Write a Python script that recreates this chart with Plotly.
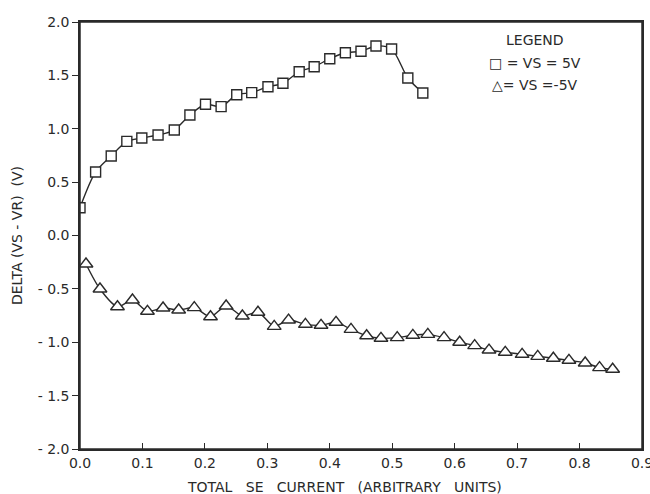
import plotly.graph_objects as go

sq_x = [0.0, 0.025, 0.050, 0.075, 0.099, 0.125, 0.151, 0.176, 0.201, 0.226, 0.251, 0.275,
        0.301, 0.325, 0.351, 0.375, 0.400, 0.425, 0.450, 0.474, 0.499, 0.525, 0.549]
sq_y = [0.26, 0.595, 0.745, 0.882, 0.913, 0.941, 0.988, 1.129, 1.229, 1.207, 1.319, 1.338,
        1.394, 1.426, 1.534, 1.581, 1.656, 1.712, 1.726, 1.775, 1.747, 1.475, 1.335]

tr_x = [0.0096, 0.032, 0.060, 0.084, 0.108, 0.133, 0.158, 0.183, 0.209, 0.234, 0.260, 0.285,
        0.311, 0.334, 0.361, 0.386, 0.410, 0.434, 0.459, 0.482, 0.508, 0.533, 0.557, 0.583,
        0.608, 0.632, 0.655, 0.681, 0.708, 0.733, 0.758, 0.783, 0.809, 0.832, 0.853]
tr_y = [-0.267, -0.501, -0.667, -0.604, -0.710, -0.679, -0.698, -0.676, -0.761, -0.660, -0.754, -0.719,
        -0.851, -0.792, -0.832, -0.841, -0.813, -0.879, -0.939, -0.963, -0.957, -0.935, -0.926, -0.957,
        -1.000, -1.032, -1.073, -1.094, -1.113, -1.132, -1.150, -1.169, -1.194, -1.238, -1.253]

x_ticks = [0.0, 0.1, 0.2, 0.3, 0.4, 0.5, 0.6, 0.7, 0.8, 0.9]
x_labels = ["0.0", "0.1", "0.2", "0.3", "0.4", "0.5", "0.6", "0.7", "0.8", "0.9"]
y_ticks = [-2.0, -1.5, -1.0, -0.5, 0.0, 0.5, 1.0, 1.5, 2.0]
y_labels = ["- 2.0", "- 1.5", "- 1.0", "- 0.5", "0.0", "0.5", "1.0", "1.5", "2.0"]

FONT = "DejaVu Sans, sans-serif"
INK = "#2a2a2a"

fig = go.Figure()
fig.add_trace(go.Scatter(
    x=sq_x, y=sq_y, mode="lines+markers", name="VS = 5V",
    line=dict(color=INK, width=1.4, shape="spline", smoothing=0.8),
    marker=dict(symbol="square", size=10, color="white", line=dict(color=INK, width=1.4)),
))
fig.add_trace(go.Scatter(
    x=tr_x, y=tr_y, mode="lines+markers", name="VS = -5V",
    line=dict(color=INK, width=1.4, shape="spline", smoothing=0.8),
    marker=dict(symbol="triangle-up", size=12, color="white", line=dict(color=INK, width=1.4)),
))

legend_items = [
    ("LEGEND", 0.810, 0.958),
    ("\u25a1 = VS = 5V", 0.810, 0.904),
    ("\u25b3= VS =-5V", 0.810, 0.852),
]
for txt, ax, ay in legend_items:
    fig.add_annotation(x=ax, y=ay, xref="paper", yref="paper", text=txt, showarrow=False,
                       xanchor="center", yanchor="middle",
                       font=dict(family=FONT, size=14, color=INK))

# x-axis title (placed slightly left of centre, as in the original)
fig.add_annotation(x=0.4715, y=-0.089, xref="paper", yref="paper",
                   text="TOTAL   SE   CURRENT   (ARBITRARY   UNITS)", showarrow=False,
                   xanchor="center", yanchor="middle",
                   font=dict(family=FONT, size=14, color=INK))

# plot frame
fig.add_shape(type="rect", xref="paper", yref="paper", x0=0, y0=0, x1=1, y1=1,
              line=dict(color=INK, width=1.5), layer="above")

fig.update_layout(
    width=650, height=494,
    margin=dict(l=80, r=8, t=22, b=45, autoexpand=False),
    paper_bgcolor="white", plot_bgcolor="white",
    showlegend=False,
    font=dict(family=FONT, size=14, color=INK),
    xaxis=dict(range=[0, 0.9], tickvals=x_ticks, ticktext=x_labels, automargin=False,
               ticks="inside", ticklen=6, tickwidth=1.2, tickcolor=INK,
               ticklabeloverflow="allow",
               showline=True, linecolor=INK, linewidth=1.5, mirror=True,
               showgrid=False, zeroline=False,
               tickfont=dict(family=FONT, size=14, color=INK)),
    yaxis=dict(range=[-2, 2], tickvals=y_ticks, ticktext=y_labels, automargin=False,
               ticks="outside", ticklen=6, tickwidth=1.2, tickcolor=INK,
               showline=True, linecolor=INK, linewidth=1.5, mirror=True,
               showgrid=False, zeroline=False,
               title=dict(text="DELTA (VS - VR)  (V)", standoff=12,
                          font=dict(family=FONT, size=14, color=INK)),
               tickfont=dict(family=FONT, size=14, color=INK)),
)

fig.write_html(
    "out.html",
    config={"displayModeBar": False},
    post_script="document.body.style.margin='0';document.documentElement.style.overflow='hidden';",
)
